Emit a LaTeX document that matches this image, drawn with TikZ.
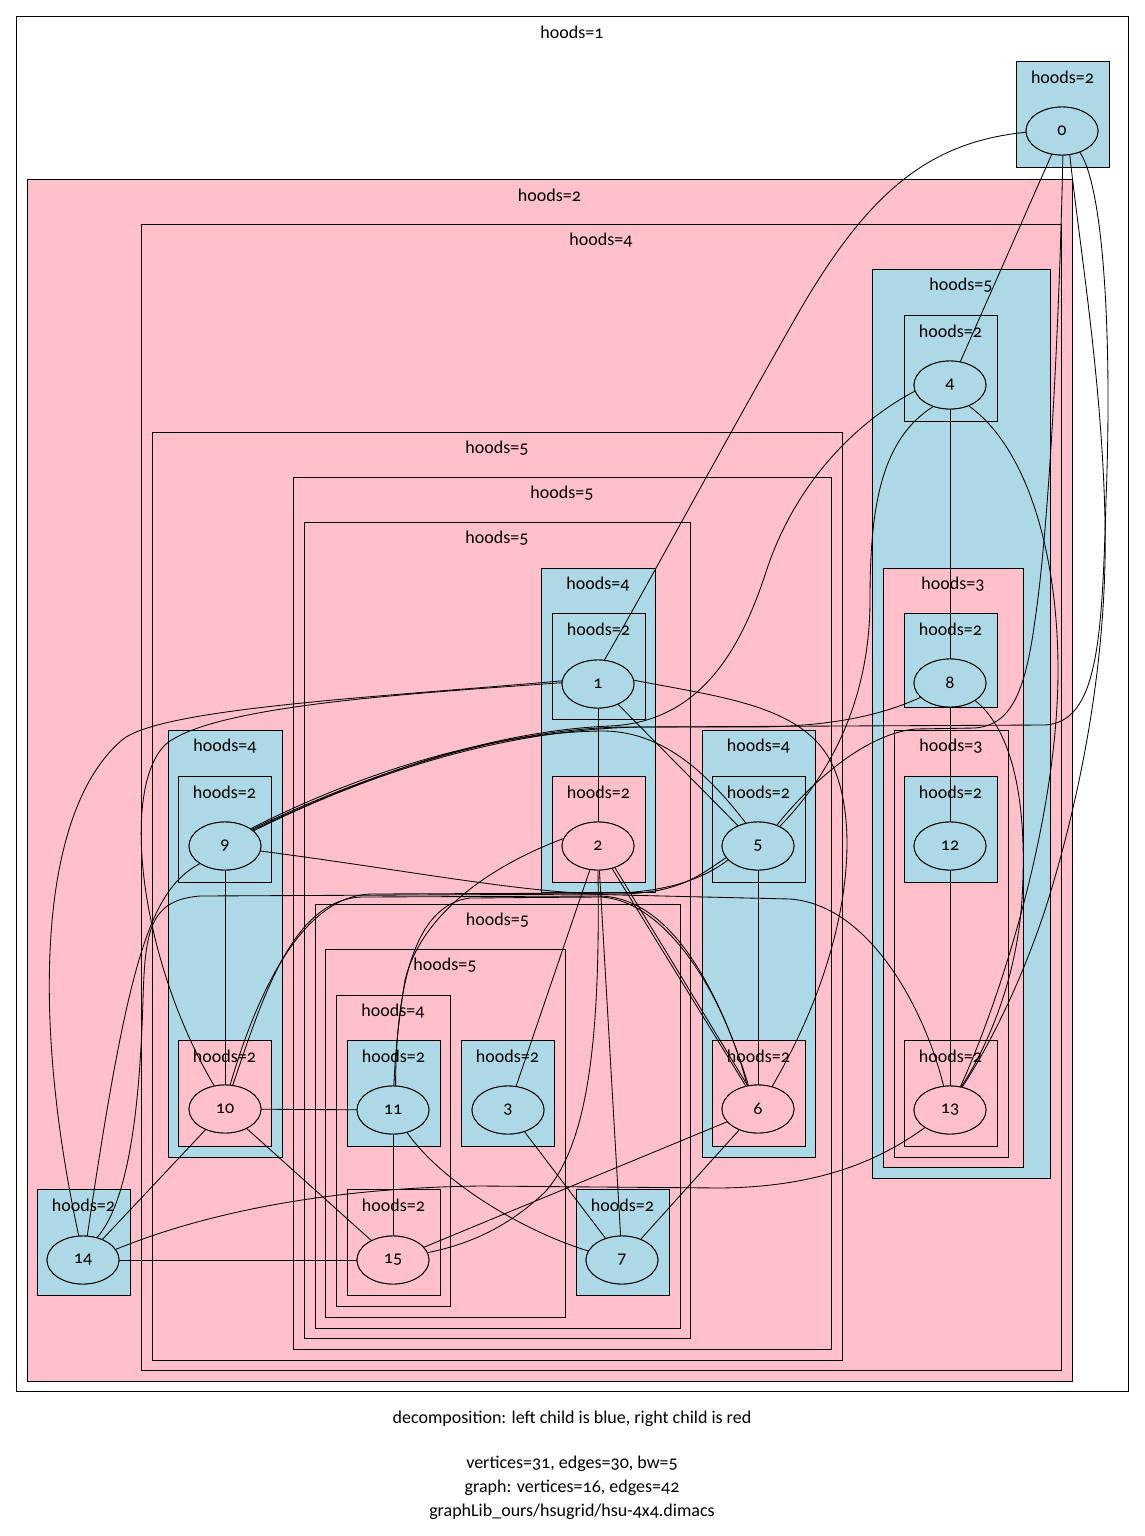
\documentclass[tikz,border=0pt]{standalone}
\usepackage{fontspec}
\setmainfont{Carlito}[Numbers=OldStyle]
\usetikzlibrary{shapes.geometric}
\definecolor{lblue}{HTML}{ADD8E6}
\definecolor{lpink}{HTML}{FFC0CB}
% cluster: name, x1, y1, x2, y2, style, label
\newcommand\clus[7]{%
  \draw[#6] (#2,#3) rectangle (#4,#5);
  \node[txt] (#1) at ({(#2+#4)/2},{#3+16}) {#7};}
\begin{document}
\begin{tikzpicture}[x=1pt,y=-1pt,
  txt/.style={font=\fontsize{18}{21}\selectfont, inner sep=0pt},
  box/.style={draw=black, line width=0.9pt},
  bbox/.style={box, fill=lblue},
  pbox/.style={box, fill=lpink},
  vtx/.style={ellipse, draw, line width=0.9pt, minimum width=72pt, minimum height=48pt,
              inner sep=0pt, font=\fontsize{18}{21}\selectfont},
  bv/.style={vtx, fill=lblue},
  pv/.style={vtx, fill=lpink},
  edge/.style={line width=0.85pt}]
\useasboundingbox (0,0) rectangle (1144,1536);
\fill[white] (0,0) rectangle (1144,1536);

% ---------- clusters ----------
\clus{c1}{16}{16}{1128}{1391}{box}{hoods=1}
\clus{c2}{1016}{61}{1109}{167}{bbox}{hoods=2}
\clus{c3}{27}{179}{1072}{1381}{pbox}{hoods=2}
\clus{c4}{141}{224}{1061}{1370}{box}{hoods=4}
\clus{c5}{872}{269}{1050}{1178}{bbox}{hoods=5}
\clus{c6}{904}{315}{997}{421}{box}{hoods=2}
\clus{c7}{883}{568}{1023}{1167}{pbox}{hoods=3}
\clus{c8}{904}{613}{997}{707}{bbox}{hoods=2}
\clus{c9}{894}{730}{1008}{1157}{pbox}{hoods=3}
\clus{c10}{904}{776}{997}{882}{bbox}{hoods=2}
\clus{c11}{904}{1040}{997}{1146}{box}{hoods=2}
\clus{c12}{152}{432}{842}{1360}{box}{hoods=5}
\clus{c13}{293}{477}{831}{1349}{box}{hoods=5}
\clus{c14}{304}{522}{690}{1338}{box}{hoods=5}
\clus{c15}{541}{568}{655}{892}{bbox}{hoods=4}
\clus{c16}{552}{613}{645}{719}{box}{hoods=2}
\clus{c17}{552}{776}{645}{882}{pbox}{hoods=2}
\clus{c18}{702}{730}{815}{1157}{bbox}{hoods=4}
\clus{c19}{712}{776}{805}{882}{box}{hoods=2}
\clus{c20}{712}{1040}{805}{1146}{pbox}{hoods=2}
\clus{c21}{168}{730}{282}{1157}{bbox}{hoods=4}
\clus{c22}{178}{776}{271}{882}{box}{hoods=2}
\clus{c23}{178}{1040}{271}{1146}{pbox}{hoods=2}
\clus{c24}{315}{904}{680}{1328}{box}{hoods=5}
\clus{c25}{325}{949}{565}{1317}{box}{hoods=5}
\clus{c26}{336}{995}{450}{1306}{box}{hoods=4}
\clus{c27}{347}{1040}{440}{1146}{bbox}{hoods=2}
\clus{c28}{347}{1189}{440}{1295}{box}{hoods=2}
\clus{c29}{461}{1040}{554}{1146}{bbox}{hoods=2}
\clus{c30}{576}{1189}{669}{1295}{bbox}{hoods=2}
\clus{c31}{37}{1189}{130}{1295}{bbox}{hoods=2}

% ---------- vertices (placed first, drawn on top later) ----------
\path
  (1062,131) node[bv] (n0) {0}
  (950,385)  node[bv] (n4) {4}
  (950,683)  node[bv] (n8) {8}
  (950,846)  node[bv] (n12) {12}
  (950,1110) node[pv] (n13) {13}
  (598,684)  node[bv] (n1) {1}
  (598,846)  node[pv] (n2) {2}
  (758,846)  node[bv] (n5) {5}
  (758,1109) node[pv] (n6) {6}
  (225,846)  node[bv] (n9) {9}
  (225,1109) node[pv] (n10) {10}
  (393,1110) node[bv] (n11) {11}
  (508,1110) node[bv] (n3) {3}
  (393,1260) node[pv] (n15) {15}
  (622,1260) node[bv] (n7) {7}
  (83,1260)  node[bv] (n14) {14};

% ---------- edges ----------
\draw[edge] (n0.182) .. controls (930,142) and (870,190) .. (800,310) .. controls (720,450) and (645,590) .. (n1.75);
\draw[edge] (n0) -- (n4);
\draw[edge] (n0.-88) .. controls (1060,300) and (1050,520) .. (1035,620) .. controls (1025,695) and (1010,725) .. (975,728) -- (915,729) .. controls (860,735) and (805,790) .. (n5.48);
\draw[edge] (n0.-50) .. controls (1105,190) and (1112,350) .. (1106,500) .. controls (1102,640) and (1098,722) .. (1045,725) -- (640,727) .. controls (480,730) and (340,788) .. (n9.28);
\draw[edge] (n0.-72) .. controls (1080,250) and (1102,380) .. (1105,520) .. controls (1108,660) and (1080,800) .. (1045,910) .. controls (1015,1000) and (980,1060) .. (n13.62);
\draw[edge] (n4.190) .. controls (860,420) and (795,480) .. (765,575) .. controls (740,650) and (700,722) .. (610,726) .. controls (470,732) and (338,790) .. (n9.30);
\draw[edge] (n4.232) .. controls (880,440) and (870,510) .. (870,600) .. controls (870,700) and (830,775) .. (n5.42);
\draw[edge] (n4) -- (n8);
\draw[edge] (n4.-48) .. controls (1030,450) and (1058,560) .. (1058,670) .. controls (1058,820) and (1000,1000) .. (n13.66);
\draw[edge] (n8) -- (n12);
\draw[edge] (n12) -- (n13);
\draw[edge] (n8.206) .. controls (880,716) and (830,726) .. (760,727) -- (620,727) .. controls (480,731) and (342,786) .. (n9.32);
\draw[edge] (n8.-35) .. controls (1012,730) and (1028,800) .. (1022,900) .. controls (1016,985) and (985,1050) .. (n13.64);
\draw[edge] (n13.215) .. controls (880,1160) and (820,1187) .. (720,1188) -- (480,1186) .. controls (320,1188) and (200,1215) .. (n14.18);
\draw[edge] (n9.-8) .. controls (420,872) and (520,893) .. (620,895) -- (790,899) .. controls (870,905) and (925,1010) .. (n13.105);
\draw[edge] (n1) -- (n2);
\draw[edge] (n1) -- (n5);
\draw[edge] (n1.6) .. controls (720,697) and (800,705) .. (830,760) .. controls (862,820) and (852,950) .. (n6.58);
\draw[edge] (n1.178) .. controls (420,693) and (210,705) .. (165,745) .. controls (120,790) and (140,960) .. (n10.115);
\draw[edge] (n1.175) .. controls (380,697) and (160,708) .. (122,740) .. controls (40,810) and (30,1010) .. (n14.100);
\draw[edge] (n9) -- (n10);
\draw[edge] (n9.215) .. controls (150,890) and (128,960) .. (n14.80);
\draw[edge] (n9.34) .. controls (350,778) and (480,733) .. (600,731) .. controls (660,730) and (705,770) .. (n5.118);
\draw[edge] (n2.168) .. controls (480,870) and (420,920) .. (405,980) .. controls (397,1030) and (395,1060) .. (n11.88);
\draw[edge] (n2) -- (n3);
\draw[edge] (n2) -- (n7);
\draw[edge] (n2.-90) .. controls (600,1020) and (592,1140) .. (545,1192) .. controls (505,1230) and (465,1245) .. (n15.12);
\draw[edge] (n2.-58) -- (n6.118);
\draw[edge] (n2.-52) -- (n6.114);
\draw[edge] (n5) -- (n6);
\draw[edge] (n5.200) .. controls (700,875) and (680,893) .. (620,894) -- (200,896) .. controls (150,900) and (145,930) .. (143,1000) .. controls (140,1100) and (130,1200) .. (n14.58);
\draw[edge] (n10) -- (n11);
\draw[edge] (n10) -- (n14);
\draw[edge] (n10) -- (n15);
\draw[edge] (n10.72) .. controls (262,1000) and (292,899) .. (362,897) -- (600,896) .. controls (675,898) and (722,1000) .. (n6.112);
\draw[edge] (n10.78) .. controls (255,1000) and (300,895) .. (372,894) -- (620,893) .. controls (682,890) and (712,872) .. (n5.205);
\draw[edge] (n11.84) .. controls (396,1000) and (410,905) .. (470,898) -- (600,897) .. controls (668,900) and (726,1000) .. (n6.115);
\draw[edge] (n11) -- (n15);
\draw[edge] (n11.-58) .. controls (440,1180) and (520,1230) .. (n7.165);
\draw[edge] (n3) -- (n7);
\draw[edge] (n6) -- (n15);
\draw[edge] (n6) -- (n7);
\draw[edge] (n14) -- (n15);

% ---------- vertices redrawn over the edges ----------
\path
  (1062,131) node[bv] {0}
  (950,385)  node[bv] {4}
  (950,683)  node[bv] {8}
  (950,846)  node[bv] {12}
  (950,1110) node[pv] {13}
  (598,684)  node[bv] {1}
  (598,846)  node[pv] {2}
  (758,846)  node[bv] {5}
  (758,1109) node[pv] {6}
  (225,846)  node[bv] {9}
  (225,1109) node[pv] {10}
  (393,1110) node[bv] {11}
  (508,1110) node[bv] {3}
  (393,1260) node[pv] {15}
  (622,1260) node[bv] {7}
  (83,1260)  node[bv] {14};

% ---------- caption ----------
\node[txt] (t1) at (572,1419) {decomposition: left child is blue, right child is red};
\node[txt] (t2) at (572,1464) {vertices=31, edges=30, bw=5};
\node[txt] (t3) at (572,1488) {graph: vertices=16, edges=42};
\node[txt] (t4) at (572,1512) {graphLib\_ours/hsugrid/hsu-4x4.dimacs};
\end{tikzpicture}
\end{document}
